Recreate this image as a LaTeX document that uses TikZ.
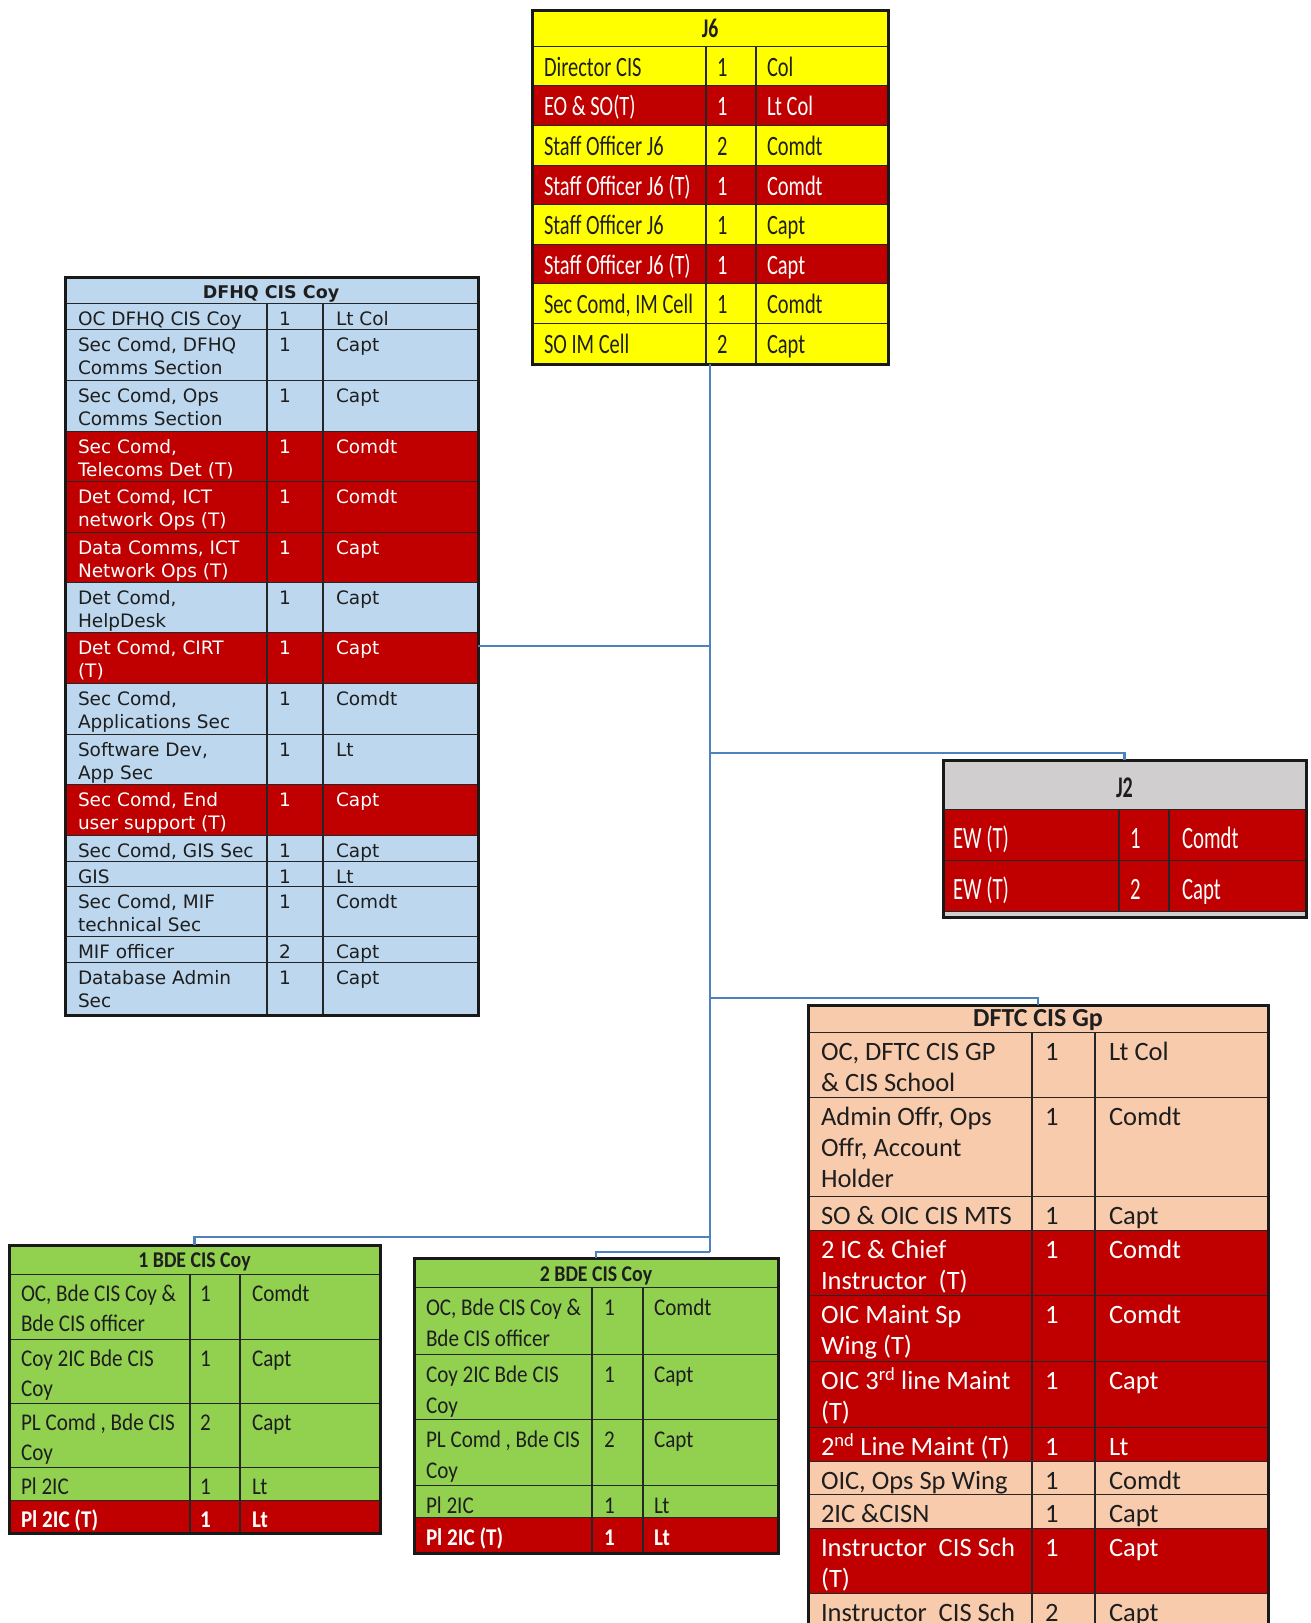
\documentclass[tikz,border=0pt]{standalone}
\usepackage{fontspec}
\setmainfont{Carlito}
\newfontfamily\fDV{DejaVu Sans}
\newfontfamily\fNar[FakeStretch=0.73]{Carlito}
\newfontfamily\fNarJ[FakeStretch=0.67]{Carlito}
\newfontfamily\fCal{Carlito}
\newfontfamily\fBde[FakeStretch=0.88]{Carlito}
\definecolor{cyel}{HTML}{FFFF00}
\definecolor{cred}{HTML}{C00000}
\definecolor{cblue}{HTML}{BDD7EE}
\definecolor{cpeach}{HTML}{F8CBAD}
\definecolor{cgreen}{HTML}{92D050}
\definecolor{cgray}{HTML}{D0CECE}
\definecolor{connblue}{HTML}{4F81BD}
\definecolor{txt}{HTML}{1E1E1E}
\tikzset{
  gridline/.style={draw=black!85, line width=1.4pt},
  tabframe/.style={draw=black!90, line width=3pt, inner sep=0pt, outer sep=0pt},
  conn/.style={draw=connblue, line width=2.5pt},
  celltxt/.style={inner sep=0pt, outer sep=0pt, align=left, font=\TFont},
}
\newcommand\SetTab[9]{\def\TL{#1}\def\TA{#2}\def\TB{#3}\def\TR{#4}\def\PL{#5}\def\PA{#6}\def\PB{#7}\def\TBase{#8}\def\TFont{#9}}
\newcommand\Header[8]{%
  \fill[#4] (\TL,#2) rectangle (\TR,#3);
  \draw[gridline] (\TL,#3) -- (\TR,#3);
  \node[inner sep=0pt, anchor=base, text=txt, font={#8}] (#1) at (#5,#6) {#7};}
\newcommand\TabRow[8]{%
  \fill[#4] (\TL,#2) rectangle (\TR,#3);
  \draw[gridline] (\TL,#3) -- (\TR,#3) (\TA,#2) -- (\TA,#3) (\TB,#2) -- (\TB,#3);
  \node[celltxt, text=#5, anchor=north west] (#1a) at (\TL+\PL,#2) {\rule{0pt}{\TBase pt}#6};
  \node[celltxt, text=#5, anchor=base west] (#1b) at (\TA+\PA,#2+\TBase) {#7};
  \node[celltxt, text=#5, anchor=base west] (#1c) at (\TB+\PB,#2+\TBase) {#8};}
\begin{document}
\begin{tikzpicture}[x=1pt,y=-1pt]
\useasboundingbox (0,0) rectangle (1311,1623);
\fill[white] (0,0) rectangle (1311,1623);
\begin{scope}
\clip (0,0) rectangle (1311,1623);
% ---------------- J6
\SetTab{532}{706}{756}{888}{12}{11}{11}{29.5}{\fNar\fontsize{28pt}{32pt}\selectfont}
\Header{j6h}{10}{47}{cyel}{710}{37}{J6}{\fNar\fontsize{27pt}{31pt}\selectfont\bfseries}
\TabRow{j6r1}{47}{86}{cyel}{txt}{Director CIS}{1}{Col}
\TabRow{j6r2}{86}{126}{cred}{white}{EO \& SO(T)}{1}{Lt Col}
\TabRow{j6r3}{126}{166}{cyel}{txt}{Staff Officer J6}{2}{Comdt}
\TabRow{j6r4}{166}{205}{cred}{white}{Staff Officer J6 (T)}{1}{Comdt}
\TabRow{j6r5}{205}{245}{cyel}{txt}{Staff Officer J6}{1}{Capt}
\TabRow{j6r6}{245}{284}{cred}{white}{Staff Officer J6 (T)}{1}{Capt}
\TabRow{j6r7}{284}{324}{cyel}{txt}{Sec Comd, IM Cell}{1}{Comdt}
\TabRow{j6r8}{324}{364}{cyel}{txt}{SO IM Cell}{2}{Capt}
\node[tabframe, anchor=north west, minimum width=356pt, minimum height=354pt] (J6) at (532,10) {};
% ---------------- DFHQ
\SetTab{65}{267}{323}{478}{13}{12}{13}{21}{\fDV\fontsize{18.5pt}{23pt}\selectfont}
\Header{dfh}{277}{304}{cblue}{271}{298}{DFHQ CIS Coy}{\fDV\fontsize{17.5pt}{21pt}\selectfont\bfseries}
\TabRow{df1}{304}{330}{cblue}{txt}{OC DFHQ CIS Coy}{1}{Lt Col}
\TabRow{df2}{330}{381}{cblue}{txt}{Sec Comd, DFHQ\\Comms Section}{1}{Capt}
\TabRow{df3}{381}{432}{cblue}{txt}{Sec Comd, Ops\\Comms Section}{1}{Capt}
\TabRow{df4}{432}{482}{cred}{white}{Sec Comd,\\Telecoms Det (T)}{1}{Comdt}
\TabRow{df5}{482}{533}{cred}{white}{Det Comd, ICT\\network Ops (T)}{1}{Comdt}
\TabRow{df6}{533}{583}{cred}{white}{Data Comms, ICT\\Network Ops (T)}{1}{Capt}
\TabRow{df7}{583}{633}{cblue}{txt}{Det Comd,\\HelpDesk}{1}{Capt}
\TabRow{df8}{633}{684}{cred}{white}{Det Comd, CIRT\\(T)}{1}{Capt}
\TabRow{df9}{684}{735}{cblue}{txt}{Sec Comd,\\Applications Sec}{1}{Comdt}
\TabRow{df10}{735}{785}{cblue}{txt}{Software Dev,\\App Sec}{1}{Lt}
\TabRow{df11}{785}{836}{cred}{white}{Sec Comd, End\\user support (T)}{1}{Capt}
\TabRow{df12}{836}{862}{cblue}{txt}{Sec Comd, GIS Sec}{1}{Capt}
\TabRow{df13}{862}{887}{cblue}{txt}{GIS}{1}{Lt}
\TabRow{df14}{887}{937}{cblue}{txt}{Sec Comd, MIF\\technical Sec}{1}{Comdt}
\TabRow{df15}{937}{963}{cblue}{txt}{MIF officer}{2}{Capt}
\TabRow{df16}{963}{1015}{cblue}{txt}{Database Admin\\Sec}{1}{Capt}
\node[tabframe, anchor=north west, minimum width=413pt, minimum height=738pt] (DFHQ) at (65,277) {};
% ---------------- J2
\SetTab{943}{1119}{1169}{1306}{10}{11}{13}{38.5}{\fNarJ\fontsize{31pt}{35pt}\selectfont}
\Header{j2h}{760}{810}{cgray}{1124.5}{797}{J2}{\fNarJ\fontsize{30pt}{34pt}\selectfont\bfseries}
\TabRow{j2r1}{810}{861}{cred}{white}{EW (T)}{1}{Comdt}
\TabRow{j2r2}{861}{912}{cred}{white}{EW (T)}{2}{Capt}
\fill[cgray] (943,912) rectangle (1306,917);
\node[tabframe, anchor=north west, minimum width=363pt, minimum height=157pt] (J2) at (943,760) {};
% ---------------- DFTC
\SetTab{808}{1032}{1095}{1268}{13}{13}{14}{27.5}{\fCal\fontsize{26.5pt}{31pt}\selectfont}
\Header{dth}{1005}{1033}{cpeach}{1038}{1026}{DFTC CIS Gp}{\fCal\fontsize{26pt}{30pt}\selectfont\bfseries}
\TabRow{dt1}{1033}{1098}{cpeach}{txt}{OC, DFTC CIS GP\\\& CIS School}{1}{Lt Col}
\TabRow{dt2}{1098}{1197}{cpeach}{txt}{Admin Offr, Ops\\Offr, Account\\Holder}{1}{Comdt}
\TabRow{dt3}{1197}{1231}{cpeach}{txt}{SO \& OIC CIS MTS}{1}{Capt}
\TabRow{dt4}{1231}{1296}{cred}{white}{2 IC \& Chief\\Instructor~ (T)}{1}{Comdt}
\TabRow{dt5}{1296}{1362}{cred}{white}{OIC Maint Sp\\Wing (T)}{1}{Comdt}
\TabRow{dt6}{1362}{1428}{cred}{white}{OIC 3\textsuperscript{rd} line Maint\\(T)}{1}{Capt}
\TabRow{dt7}{1428}{1462}{cred}{white}{2\textsuperscript{nd} Line Maint (T)}{1}{Lt}
\TabRow{dt8}{1462}{1495}{cpeach}{txt}{OIC, Ops Sp Wing}{1}{Comdt}
\TabRow{dt9}{1495}{1529}{cpeach}{txt}{2IC \&CISN}{1}{Capt}
\TabRow{dt10}{1529}{1594}{cred}{white}{Instructor~ CIS Sch\\(T)}{1}{Capt}
\TabRow{dt11}{1594}{1660}{cpeach}{txt}{Instructor~ CIS Sch}{2}{Capt}
\node[tabframe, anchor=north west, minimum width=460pt, minimum height=655pt] (DFTC) at (808,1005) {};
% ---------------- 1 BDE
\SetTab{9}{190}{240}{380}{12}{10}{12}{26}{\fBde\fontsize{24pt}{30pt}\selectfont}
\Header{b1h}{1245}{1275}{cgreen}{194.5}{1267}{1 BDE CIS Coy}{\fBde\fontsize{22.5pt}{26pt}\selectfont\bfseries}
\TabRow{b1r1}{1275}{1340}{cgreen}{txt}{OC, Bde CIS Coy \&\\Bde CIS officer}{1}{Comdt}
\TabRow{b1r2}{1340}{1404}{cgreen}{txt}{Coy 2IC Bde CIS\\Coy}{1}{Capt}
\TabRow{b1r3}{1404}{1468}{cgreen}{txt}{PL Comd , Bde CIS\\Coy}{2}{Capt}
\TabRow{b1r4}{1468}{1501}{cgreen}{txt}{Pl 2IC}{1}{Lt}
\TabRow{b1r5}{1501}{1533}{cred}{white}{\bfseries Pl 2IC (T)}{\bfseries 1}{\bfseries Lt}
\node[tabframe, anchor=north west, minimum width=371pt, minimum height=288pt] (BDE1) at (9,1245) {};
% ---------------- 2 BDE
\SetTab{414}{592}{643}{778}{12}{12}{11}{27}{\fBde\fontsize{24pt}{31pt}\selectfont}
\Header{b2h}{1258}{1288}{cgreen}{596}{1281}{2 BDE CIS Coy}{\fBde\fontsize{22.5pt}{26pt}\selectfont\bfseries}
\TabRow{b2r1}{1288}{1355}{cgreen}{txt}{OC, Bde CIS Coy \&\\Bde CIS officer}{1}{Comdt}
\TabRow{b2r2}{1355}{1420}{cgreen}{txt}{Coy 2IC Bde CIS\\Coy}{1}{Capt}
\TabRow{b2r3}{1420}{1486}{cgreen}{txt}{PL Comd , Bde CIS\\Coy}{2}{Capt}
\TabRow{b2r4}{1486}{1518}{cgreen}{txt}{Pl 2IC}{1}{Lt}
\TabRow{b2r5}{1518}{1553}{cred}{white}{\bfseries Pl 2IC (T)}{\bfseries 1}{\bfseries Lt}
\node[tabframe, anchor=north west, minimum width=364pt, minimum height=295pt] (BDE2) at (414,1258) {};
\end{scope}
% ---------------- connectors
\coordinate (trunkend) at (710,1252);
\coordinate (kj2) at (710,753);
\coordinate (kdt) at (710,998);
\coordinate (kb1) at (710,1237);
\draw[conn] (J6.south) -- (J6.south |- trunkend);
\draw[conn] (J6.south |- DFHQ.east) -- (DFHQ.east);
\draw[conn] (kj2) -| (J2.north);
\draw[conn] (kdt) -| (DFTC.north);
\draw[conn] (kb1) -| (BDE1.north);
\draw[conn] (trunkend) -| (BDE2.north);
\end{tikzpicture}
\end{document}
